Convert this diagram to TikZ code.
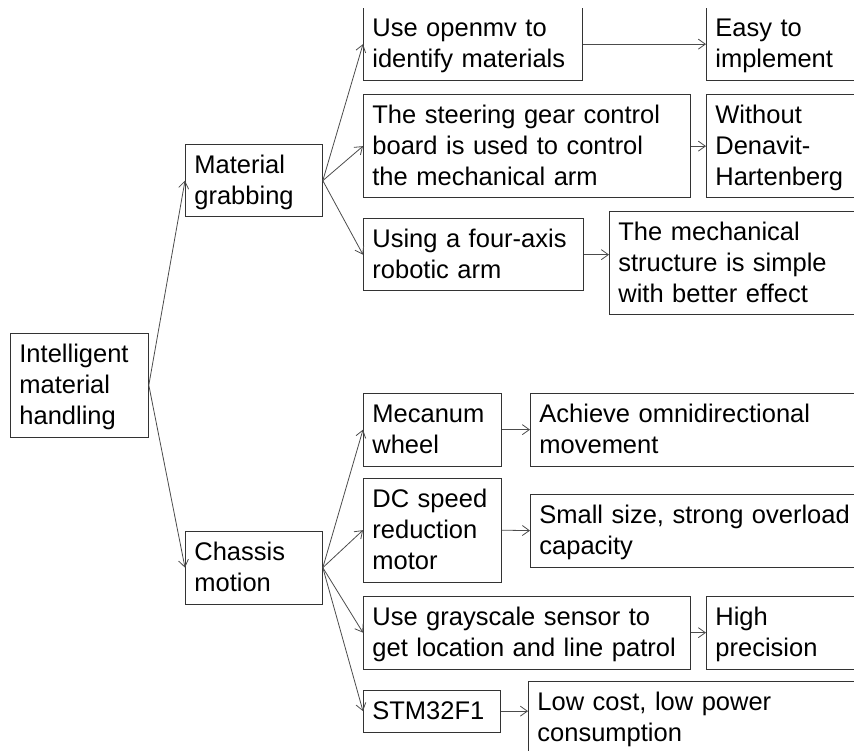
\documentclass[tikz,border=0pt]{standalone}
\usepackage{fontspec}
\setmainfont{Liberation Sans}
\usetikzlibrary{arrows.meta}
\newcommand\topstrut{\rule{0pt}{29pt}}
\newcommand\botstrut{\rule[-12.5pt]{0pt}{12.5pt}}

\begin{document}
\begin{tikzpicture}[x=1pt, y=-1pt,
  item node/.style={draw=black!80, line width=0.8pt, anchor=north west, align=left,
    inner xsep=9pt, inner ysep=0pt, font=\fontsize{25.5}{31}\selectfont,
    execute at begin node=\topstrut, execute at end node=\botstrut},
  link/.style={draw=black!70, line width=0.8pt, -{Straight Barb[length=7pt, width=10pt]}},
  every edge/.append style={link}]
\useasboundingbox (0,0) rectangle (854,751);
\clip (0,8.5) rectangle (854,751);
\node[item node, text width=120pt] (intel) at (10,333) {Intelligent\\material\\handling};
\node[item node, text width=119pt] (grab) at (185,144) {Material\\grabbing};
\node[item node, text width=119pt] (chassis) at (185,531) {Chassis\\motion};
\node[item node, text width=201pt] (openmv) at (363,7.5) {Use openmv to\\identify materials};
\node[item node, text width=156pt] (easy) at (706,7.5) {Easy to\\implement};
\node[item node, text width=309pt] (steer) at (363,94) {The steering gear control\\board is used to control\\the mechanical arm};
\node[item node, text width=156pt] (without) at (706,94) {Without\\Denavit-\\Hartenberg};
\node[item node, text width=202pt] (four) at (363,218) {Using a four-axis\\robotic arm};
\node[item node, text width=253pt] (mech) at (609,211) {The mechanical\\structure is simple\\with better effect};
\node[item node, text width=120pt] (mecanum) at (363,393) {Mecanum\\wheel};
\node[item node, text width=332pt] (achieve) at (530,393) {Achieve omnidirectional\\movement};
\node[item node, text width=120pt] (dc) at (363,478) {DC speed\\reduction\\motor};
\node[item node, text width=332pt] (small) at (530,494) {Small size, strong overload\\capacity};
\node[item node, text width=309pt] (gray) at (363,596) {Use grayscale sensor to\\get location and line patrol};
\node[item node, text width=156pt] (high) at (706,596) {High\\precision};
\node[item node, text width=119pt] (stm) at (363,690) {STM32F1};
\node[item node, text width=334pt] (low) at (528,681) {Low cost, low power\\consumption};
\path
(intel.east) edge (grab.west)
             edge (chassis.west)
(grab.east) edge (openmv.west)
            edge (steer.west)
            edge (four.west)
(chassis.east) edge (mecanum.west)
               edge (dc.west)
               edge (gray.west)
               edge (stm.west)
(openmv.east) edge (easy.west)
(steer.east) edge (without.west)
(mecanum.east) edge (achieve.west)
(dc.east) edge (small.west)
(gray.east) edge (high.west);
\draw[link] (four.east) -- (four.east -| mech.west);
\draw[link] (stm.east) -- (stm.east -| low.west);
\end{tikzpicture}
\end{document}
